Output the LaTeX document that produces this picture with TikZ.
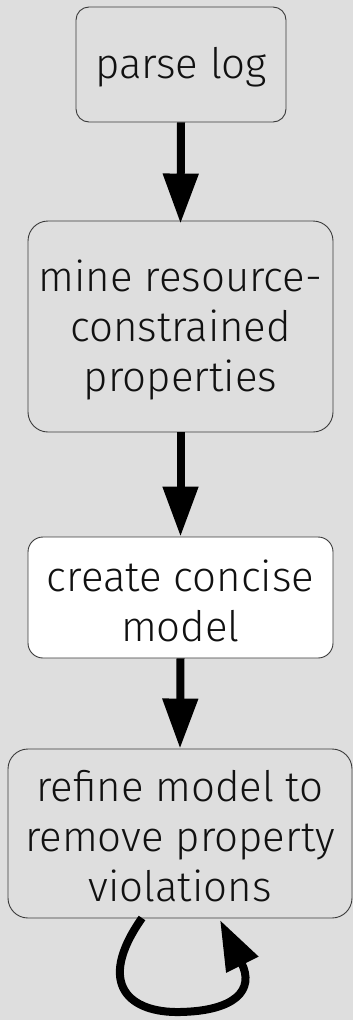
\documentclass[tikz,border=0pt]{standalone}
\usepackage{fontspec}
\setmainfont{Fira Sans Light}
\usetikzlibrary{arrows.meta}
\definecolor{bggray}{HTML}{DEDEDE}
\definecolor{edgegray}{HTML}{3A3A3A}
\definecolor{inkblack}{HTML}{111111}
\tikzset{
  stepbox/.style={draw=edgegray, line width=0.9pt, fill=bggray, inner sep=0pt},
  steptext/.style={text=inkblack, align=center, inner sep=0pt, yshift=-3pt,
    font=\fontsize{42}{50}\selectfont},
  flow/.style={line width=8pt, draw=black,
    -{Triangle[length=50pt,width=34pt]}},
}
\begin{document}
\begin{tikzpicture}[x=1pt,y=-1pt]
  \fill[bggray] (0,0) rectangle (353,1020);
  \useasboundingbox (0,0) rectangle (353,1020);

  % the four steps
  \node[stepbox, rounded corners=13pt, minimum width=210pt, minimum height=115pt]
    (parse) at (181,64.5) {};
  \node[stepbox, rounded corners=20pt, minimum width=305pt, minimum height=211pt]
    (mine) at (180.5,326.5) {};
  \node[stepbox, fill=white, rounded corners=15pt, minimum width=305pt, minimum height=121pt]
    (create) at (180.5,597.5) {};
  \node[stepbox, rounded corners=20pt, minimum width=344pt, minimum height=169pt]
    (refine) at (180,833.5) {};

  \node[steptext] (parsetxt) at (parse) {parse log};
  \node[steptext] (minetxt) at (mine) {mine resource-\\constrained\\properties};
  \node[steptext] (createtxt) at (create) {create concise\\model};
  \node[steptext] (refinetxt) at (refine) {refine model to\\remove property\\violations};

  \draw[flow] (parse.south) -- ([yshift=-3pt]mine.north);
  \draw[flow] (mine.south) -- (create.north);
  \draw[flow] (create.south) -- (refine.north);

  % repeated refinement: loop under the last step
  \coordinate (loopout) at (142,918);
  \coordinate (loopin) at (220,920);
  \draw[flow] (loopout) .. controls (95,985) and (130,1013) .. (180,1012)
    .. controls (235,1011) and (255,990) .. (loopin);
\end{tikzpicture}
\end{document}
